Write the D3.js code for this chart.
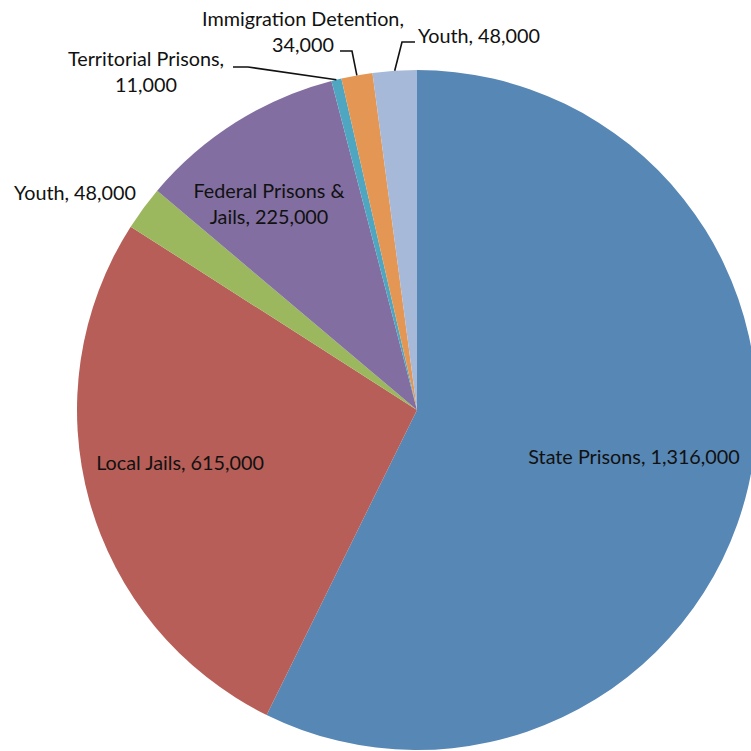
<!DOCTYPE html>
<html lang="en">
<head>
<meta charset="UTF-8" />
<title>Incarceration pie</title>
<script src="https://d3js.org/d3.v7.min.js"></script>
<style>
  body { margin: 0; background: #fff; }
  svg text { font-family: "Lato", "Open Sans", sans-serif; font-size: 19.8px; fill: #111; }
</style>
</head>
<body>
<svg id="chart" width="751" height="751"></svg>
<script>
// slices, clockwise from 12 o'clock
const categories = ["State Prisons", "Local Jails", "Youth", "Federal Prisons & Jails",
  "Territorial Prisons", "Immigration Detention", "Youth"];
const values = [1316000, 615000, 48000, 225000, 11000, 34000, 48000];
const colors = ["#5787b5", "#b65e57", "#9bb85e", "#826ea0", "#4fa6c0", "#e49754", "#a6b9d9"];

// label text lines (as shown on the chart)
const labelLines = [
  ["State Prisons, 1,316,000"],
  ["Local Jails, 615,000"],
  ["Youth, 48,000"],
  ["Federal Prisons &", "Jails, 225,000"],
  ["Territorial Prisons,", "11,000"],
  ["Immigration Detention,", "34,000"],
  ["Youth, 48,000"]
];

const cx = 417, cy = 410, radius = 340;

// label placement: x, first baseline y, anchor, leader elbow (null = no leader)
const labelLayout = [
  { x: 634, y: 464, anchor: "middle", leader: null },
  { x: 180, y: 470, anchor: "middle", leader: null },
  { x: 75,  y: 200, anchor: "middle", leader: null },
  { x: 269, y: 198, anchor: "middle", leader: null },
  { x: 146, y: 66,  anchor: "middle", leader: [[248, 67], [233, 67]] },
  { x: 303, y: 26,  anchor: "middle", leader: [[352, 51], [340, 51]] },
  { x: 418, y: 43,  anchor: "start",  leader: [[402, 42], [415, 42]] }
];

const data = categories.map((c, i) => ({ name: c, value: values[i], i }));

const svg = d3.select("#chart");
const g = svg.append("g").attr("transform", `translate(${cx},${cy})`);

const pie = d3.pie().sort(null).value(d => d.value);
const arc = d3.arc().innerRadius(0).outerRadius(radius);
const arcs = pie(data);

g.selectAll("path.slice")
  .data(arcs)
  .join("path")
  .attr("class", "slice")
  .attr("d", arc)
  .attr("fill", d => colors[d.data.i]);

// leader lines from slice edge
const edge = d3.arc().innerRadius(radius).outerRadius(radius);
arcs.forEach(a => {
  const lay = labelLayout[a.data.i];
  if (!lay.leader) return;
  const [ex, ey] = edge.centroid(a);
  const pts = [[ex + cx, ey + cy]].concat(lay.leader);
  svg.append("path")
    .attr("d", d3.line()(pts))
    .attr("fill", "none")
    .attr("stroke", "#111")
    .attr("stroke-width", 1.6);
});

// labels
arcs.forEach(a => {
  const lay = labelLayout[a.data.i];
  const t = svg.append("text")
    .attr("x", lay.x)
    .attr("y", lay.y)
    .attr("text-anchor", lay.anchor);
  labelLines[a.data.i].forEach((line, k) => {
    t.append("tspan")
      .attr("x", lay.x)
      .attr("dy", k === 0 ? 0 : 25.5)
      .text(line);
  });
});
</script>
</body>
</html>
